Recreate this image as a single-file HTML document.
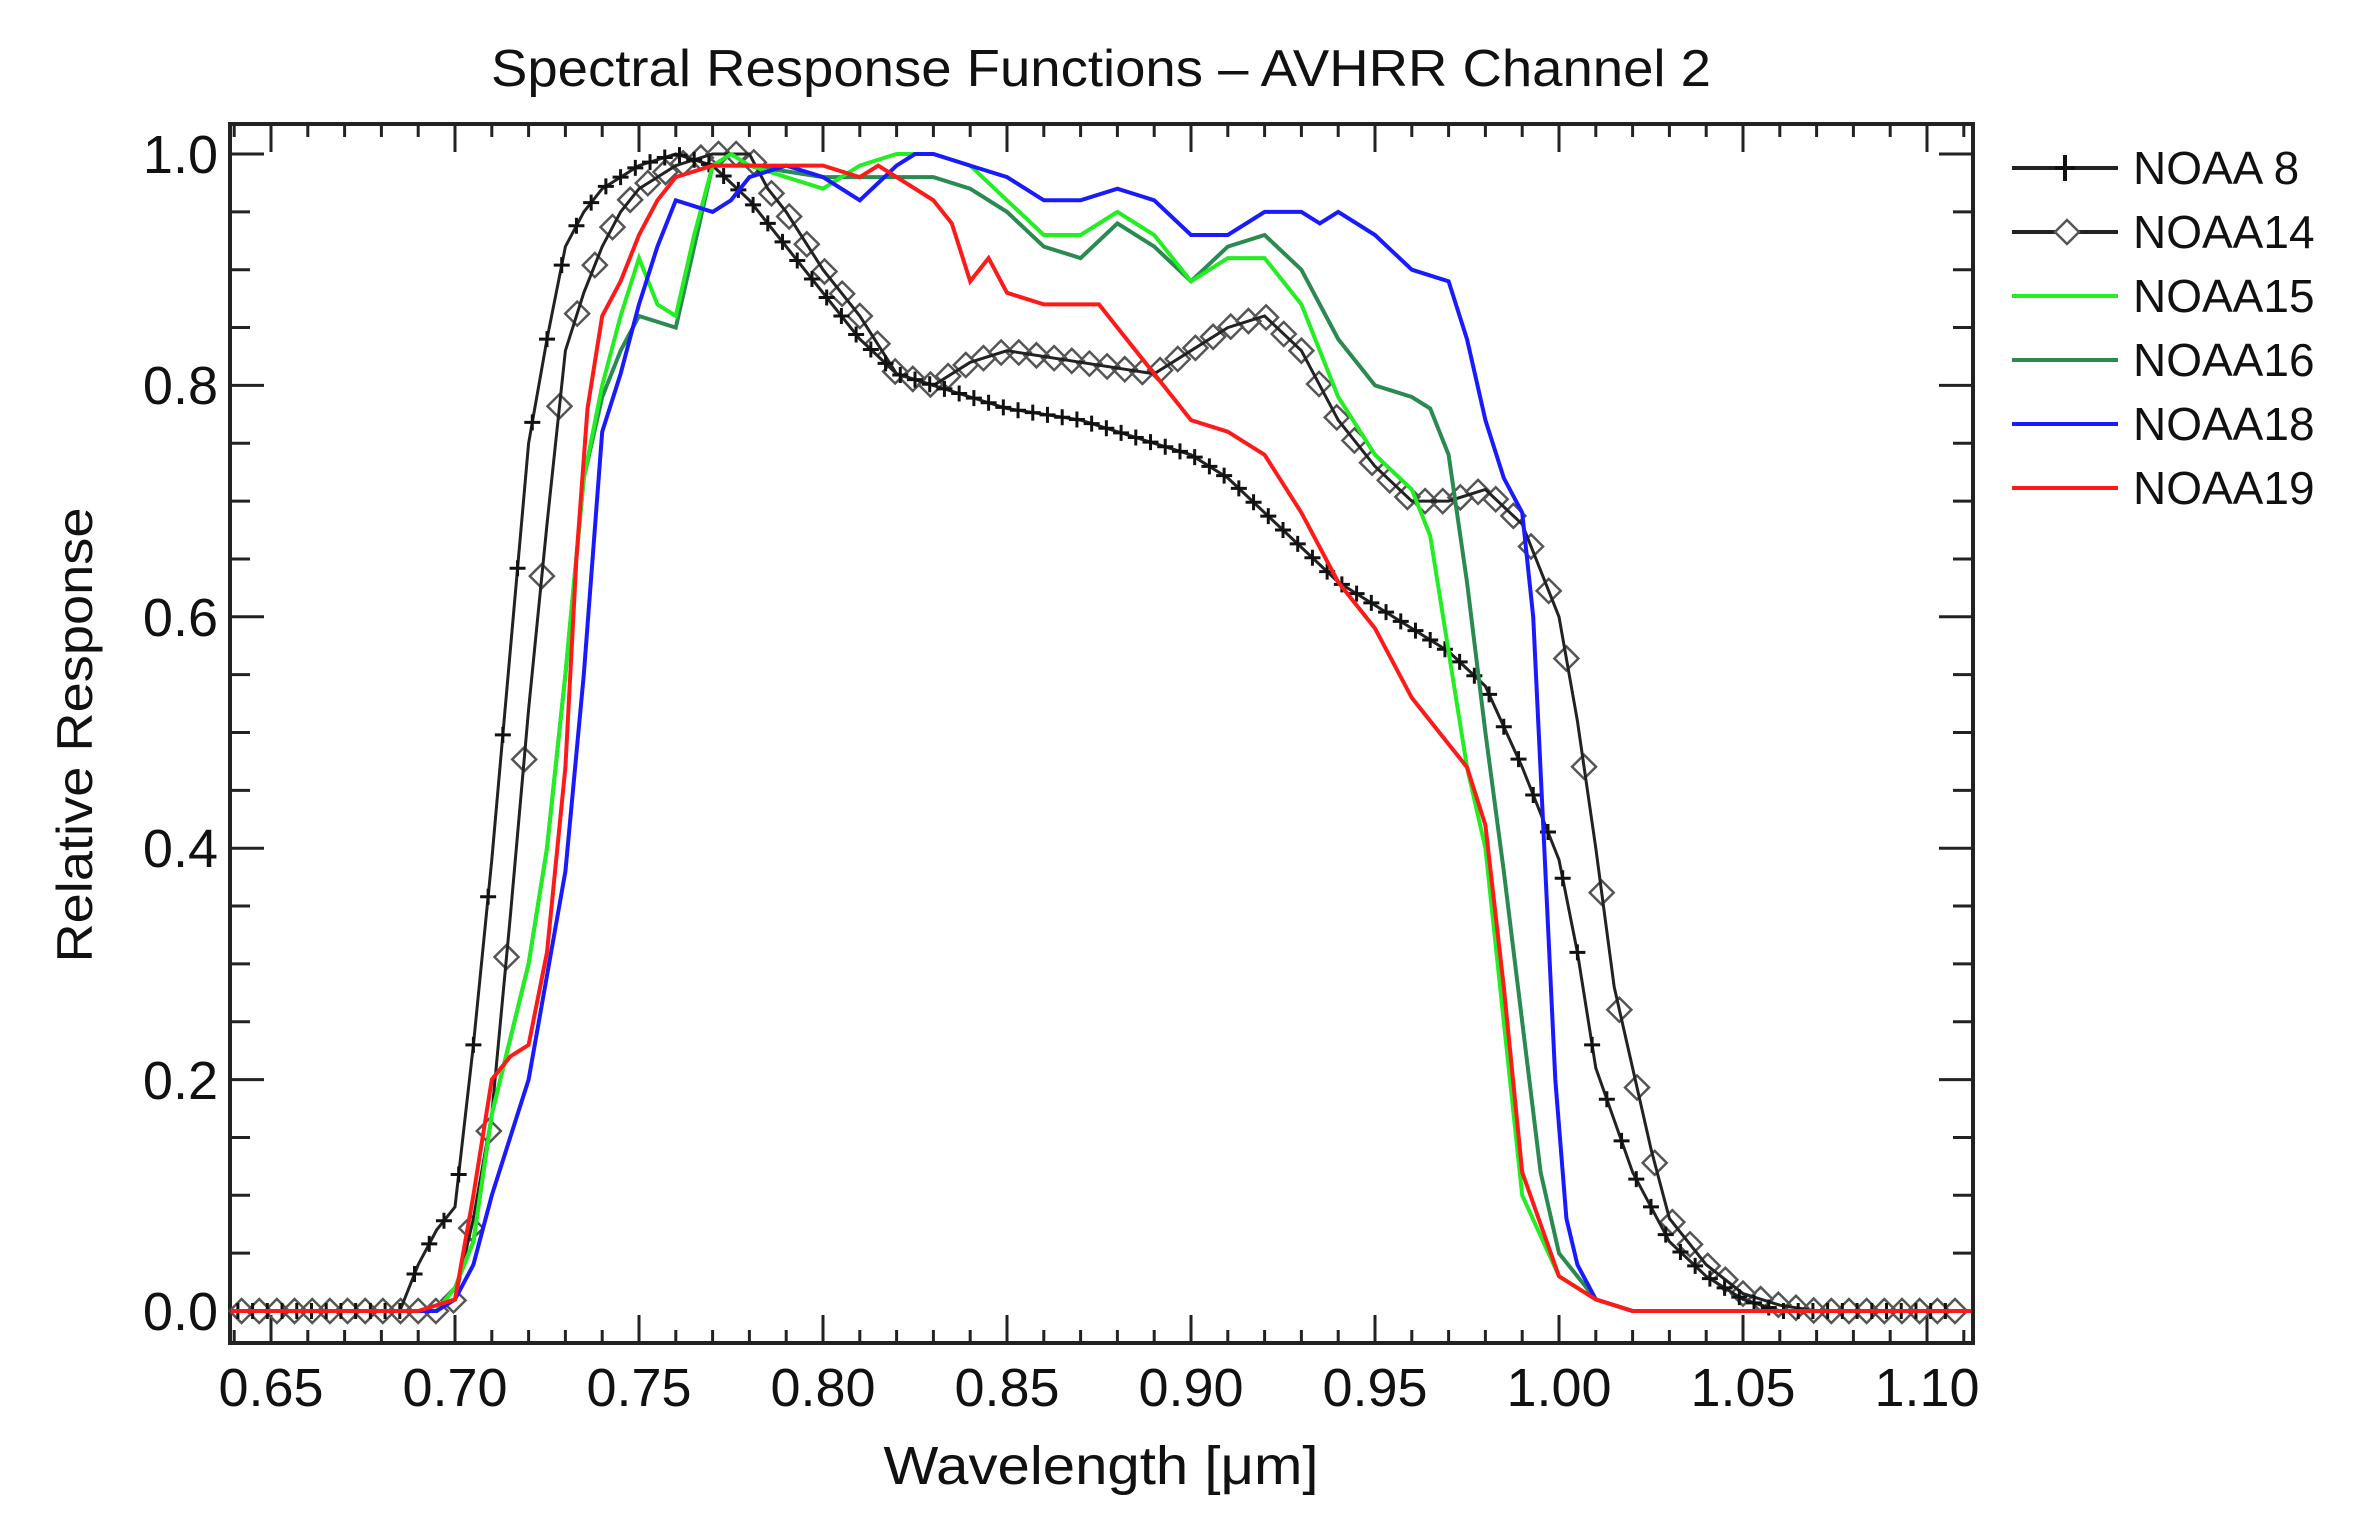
<!DOCTYPE html>
<html><head><meta charset="utf-8"><style>
html,body{margin:0;padding:0;background:#fff;}
svg{display:block;}
text{font-family:"Liberation Sans",sans-serif;fill:#111;}
</style></head><body>
<svg id="s" width="2364" height="1524" viewBox="0 0 2364 1524" xmlns="http://www.w3.org/2000/svg">
<rect width="2364" height="1524" fill="#fff"/>
<text x="1101" y="86" font-size="52" text-anchor="middle" textLength="1220" lengthAdjust="spacingAndGlyphs">Spectral Response Functions – AVHRR Channel 2</text>
<g font-size="54" text-anchor="end">
<text x="218" y="1330">0.0</text>
<text x="218" y="1099">0.2</text>
<text x="218" y="867">0.4</text>
<text x="218" y="636">0.6</text>
<text x="218" y="404">0.8</text>
<text x="218" y="173">1.0</text>
</g>
<g font-size="54" text-anchor="middle">
<text x="271" y="1406">0.65</text>
<text x="455" y="1406">0.70</text>
<text x="639" y="1406">0.75</text>
<text x="823" y="1406">0.80</text>
<text x="1007" y="1406">0.85</text>
<text x="1191" y="1406">0.90</text>
<text x="1375" y="1406">0.95</text>
<text x="1559" y="1406">1.00</text>
<text x="1743" y="1406">1.05</text>
<text x="1927" y="1406">1.10</text>
</g>
<text x="1101" y="1484" font-size="54" text-anchor="middle" textLength="435" lengthAdjust="spacingAndGlyphs">Wavelength [μm]</text>
<text transform="translate(92,735) rotate(-90)" font-size="50" text-anchor="middle" textLength="455" lengthAdjust="spacingAndGlyphs">Relative Response</text>
<g font-size="46">
<text x="2133" y="184">NOAA 8</text>
<text x="2133" y="248">NOAA14</text>
<text x="2133" y="312">NOAA15</text>
<text x="2133" y="376">NOAA16</text>
<text x="2133" y="440">NOAA18</text>
<text x="2133" y="504">NOAA19</text>
</g>
<g id="g"></g>
</svg>
<script>
var NS="http://www.w3.org/2000/svg",g=document.getElementById('g');
function X(w){return 455+(w-0.70)*3680;}
function Y(v){return 1311-v*1157;}
function el(t,a){var e=document.createElementNS(NS,t);for(var k in a)e.setAttribute(k,a[k]);g.appendChild(e);return e;}
var L=230,R=1973,T=124,B=1343;
var tk="";
for(var i=64;i<=111;i++){var w=i/100,x=X(w);if(x<L+1||x>R-1)continue;var maj=(i%5==0);var l=maj?28:13;
tk+="M"+x+" "+B+"v-"+l+"M"+x+" "+T+"v"+l;}
for(var j=0;j<=21;j++){var v=j*0.05,y=Y(v);if(y<T+1)continue;var maj=(j%4==0);var l=maj?34:20;
tk+="M"+L+" "+y+"h"+l+"M"+R+" "+y+"h-"+l;}
el('path',{d:tk,stroke:'#222','stroke-width':3,fill:'none'});
el('rect',{x:L,y:T,width:R-L,height:B-T,fill:'none',stroke:'#222','stroke-width':4});
function interp(pts,w){if(w<=pts[0][0])return pts[0][1];for(var i=1;i<pts.length;i++){if(w<=pts[i][0]){var a=pts[i-1],b=pts[i];return a[1]+(b[1]-a[1])*(w-a[0])/(b[0]-a[0]);}}return pts[pts.length-1][1];}
function pth(pts){var d="";for(var i=0;i<pts.length;i++)d+=(i?"L":"M")+X(pts[i][0]).toFixed(1)+" "+Y(pts[i][1]).toFixed(1);return d;}
function full(p){return [[0.639,0]].concat(p).concat([[1.112,0]]);}
var n8=full([[0.685,0],[0.69,0.04],[0.695,0.07],[0.70,0.09],[0.705,0.23],[0.71,0.39],[0.715,0.57],[0.72,0.75],[0.725,0.84],[0.73,0.92],[0.735,0.95],[0.74,0.97],[0.75,0.99],[0.76,1.0],[0.77,0.99],[0.78,0.96],[0.79,0.92],[0.80,0.88],[0.81,0.84],[0.82,0.81],[0.83,0.80],[0.84,0.79],[0.85,0.78],[0.87,0.77],[0.89,0.75],[0.90,0.74],[0.91,0.72],[0.92,0.69],[0.93,0.66],[0.94,0.63],[0.96,0.59],[0.97,0.57],[0.98,0.54],[0.99,0.47],[1.00,0.39],[1.005,0.31],[1.01,0.21],[1.02,0.12],[1.03,0.06],[1.04,0.03],[1.05,0.01],[1.06,0]]);
var n14=full([[0.695,0],[0.70,0.01],[0.705,0.08],[0.71,0.17],[0.715,0.34],[0.72,0.52],[0.725,0.68],[0.73,0.83],[0.735,0.88],[0.74,0.92],[0.745,0.95],[0.75,0.97],[0.76,0.99],[0.77,1.0],[0.78,1.0],[0.785,0.97],[0.79,0.95],[0.80,0.90],[0.81,0.86],[0.82,0.81],[0.83,0.80],[0.84,0.82],[0.85,0.83],[0.87,0.82],[0.89,0.81],[0.90,0.83],[0.91,0.85],[0.92,0.86],[0.93,0.83],[0.94,0.77],[0.95,0.73],[0.96,0.70],[0.97,0.70],[0.98,0.71],[0.99,0.68],[1.00,0.60],[1.005,0.51],[1.01,0.40],[1.015,0.28],[1.02,0.21],[1.025,0.14],[1.03,0.08],[1.04,0.04],[1.05,0.015],[1.06,0.005],[1.07,0]]);
var n15=full([[0.695,0],[0.70,0.02],[0.705,0.06],[0.71,0.17],[0.72,0.30],[0.725,0.40],[0.73,0.55],[0.735,0.72],[0.74,0.80],[0.745,0.86],[0.75,0.91],[0.755,0.87],[0.76,0.86],[0.765,0.93],[0.77,0.99],[0.775,1.0],[0.78,0.99],[0.80,0.97],[0.81,0.99],[0.82,1.0],[0.83,1.0],[0.84,0.99],[0.85,0.96],[0.86,0.93],[0.87,0.93],[0.88,0.95],[0.89,0.93],[0.90,0.89],[0.91,0.91],[0.92,0.91],[0.93,0.87],[0.94,0.79],[0.95,0.74],[0.96,0.71],[0.965,0.67],[0.97,0.57],[0.975,0.47],[0.98,0.40],[0.985,0.25],[0.99,0.10],[1.00,0.03],[1.01,0.01],[1.02,0]]);
var n16=full([[0.695,0],[0.70,0.02],[0.705,0.06],[0.71,0.17],[0.72,0.30],[0.725,0.40],[0.73,0.55],[0.735,0.72],[0.74,0.79],[0.745,0.83],[0.75,0.86],[0.76,0.85],[0.765,0.92],[0.77,0.99],[0.78,0.99],[0.80,0.98],[0.81,0.98],[0.82,0.98],[0.83,0.98],[0.84,0.97],[0.85,0.95],[0.86,0.92],[0.87,0.91],[0.88,0.94],[0.89,0.92],[0.90,0.89],[0.91,0.92],[0.92,0.93],[0.93,0.90],[0.94,0.84],[0.95,0.80],[0.96,0.79],[0.965,0.78],[0.97,0.74],[0.975,0.63],[0.98,0.50],[0.985,0.38],[0.99,0.25],[0.995,0.12],[1.00,0.05],[1.01,0.01],[1.02,0]]);
var n18=full([[0.695,0],[0.70,0.01],[0.705,0.04],[0.71,0.10],[0.72,0.20],[0.73,0.38],[0.735,0.55],[0.74,0.76],[0.745,0.81],[0.75,0.87],[0.755,0.92],[0.76,0.96],[0.77,0.95],[0.775,0.96],[0.78,0.98],[0.79,0.99],[0.80,0.98],[0.81,0.96],[0.82,0.99],[0.825,1.0],[0.83,1.0],[0.84,0.99],[0.85,0.98],[0.86,0.96],[0.87,0.96],[0.88,0.97],[0.89,0.96],[0.90,0.93],[0.91,0.93],[0.92,0.95],[0.93,0.95],[0.935,0.94],[0.94,0.95],[0.95,0.93],[0.96,0.90],[0.97,0.89],[0.975,0.84],[0.98,0.77],[0.985,0.72],[0.99,0.69],[0.993,0.60],[0.996,0.40],[0.999,0.20],[1.002,0.08],[1.005,0.04],[1.01,0.01],[1.02,0]]);
var n19=full([[0.69,0],[0.70,0.01],[0.705,0.10],[0.71,0.20],[0.715,0.22],[0.72,0.23],[0.725,0.31],[0.73,0.47],[0.733,0.65],[0.736,0.78],[0.74,0.86],[0.745,0.89],[0.75,0.93],[0.755,0.96],[0.76,0.98],[0.77,0.99],[0.79,0.99],[0.80,0.99],[0.81,0.98],[0.815,0.99],[0.82,0.98],[0.83,0.96],[0.835,0.94],[0.84,0.89],[0.845,0.91],[0.85,0.88],[0.86,0.87],[0.875,0.87],[0.88,0.85],[0.89,0.81],[0.90,0.77],[0.91,0.76],[0.92,0.74],[0.93,0.69],[0.94,0.63],[0.95,0.59],[0.96,0.53],[0.97,0.49],[0.975,0.47],[0.98,0.42],[0.985,0.28],[0.99,0.12],[1.00,0.03],[1.01,0.01],[1.02,0]]);
var d14="";for(var w=0.642;w<=1.108;w+=0.0048){var x=X(w),y=Y(interp(n14,w));d14+="M"+(x-12)+" "+y+"L"+x+" "+(y-12)+"L"+(x+12)+" "+y+"L"+x+" "+(y+12)+"Z";}
el('path',{d:d14,stroke:'#555','stroke-width':2.5,fill:'none'});
el('path',{d:pth(n14),stroke:'#222','stroke-width':3,fill:'none'});
el('path',{d:pth(n8),stroke:'#222','stroke-width':3,fill:'none'});
var p8="";for(var w=0.641;w<=1.108;w+=0.004){var x=X(w),y=Y(interp(n8,w));p8+="M"+(x-8)+" "+y+"h16M"+x+" "+(y-8)+"v16";}
el('path',{d:p8,stroke:'#111','stroke-width':3,fill:'none'});
el('path',{d:pth(n16),stroke:'#2a8a50','stroke-width':4,fill:'none'});
el('path',{d:pth(n15),stroke:'#22ee22','stroke-width':4,fill:'none'});
el('path',{d:pth(n18),stroke:'#1a1aff','stroke-width':4,fill:'none'});
el('path',{d:pth(n19),stroke:'#ff1a1a','stroke-width':4,fill:'none'});
var lg=[[168,'#222'],[232,'#222'],[296,'#22ee22'],[360,'#2a8a50'],[424,'#1a1aff'],[488,'#ff1a1a']];
lg.forEach(function(a){el('line',{x1:2012,x2:2118,y1:a[0],y2:a[0],stroke:a[1],'stroke-width':4});});
el('path',{d:"M2065 155v26M2055 168h20",stroke:'#111','stroke-width':4,fill:'none'});
el('path',{d:"M2055 232L2067 220L2079 232L2067 244Z",stroke:'#555','stroke-width':2.5,fill:'#fff'});
</script>
</body></html>
